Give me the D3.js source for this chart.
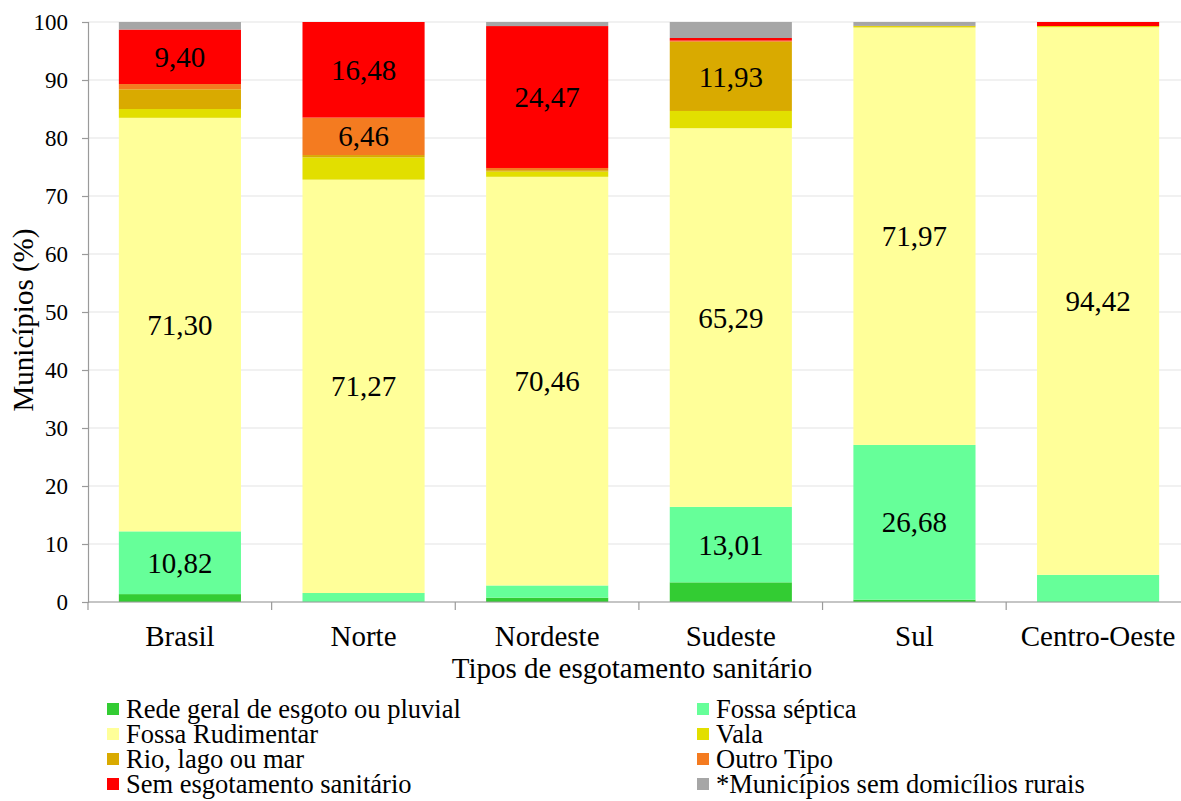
<!DOCTYPE html>
<html>
<head>
<meta charset="utf-8">
<script src="https://cdn.jsdelivr.net/npm/d3@7"></script>
</head>
<body style="margin:0">
<svg id="fig" width="1181" height="801"></svg>
<script>
// Regions (x axis categories)
const regions = ["Brasil", "Norte", "Nordeste", "Sudeste", "Sul", "Centro-Oeste"];

// Sewage disposal types, bottom to top of each stack
const seriesNames = [
  "Rede geral de esgoto ou pluvial",
  "Fossa séptica",
  "Fossa Rudimentar",
  "Vala",
  "Rio, lago ou mar",
  "Outro Tipo",
  "Sem esgotamento sanitário",
  "*Municípios sem domicílios rurais"
];
const seriesColors = ["#33cc33", "#66ff99", "#ffff99", "#e2df00", "#d9aa00", "#f47b20", "#ff0000", "#a6a6a6"];

// Share of municipalities (%) per type, one array per type, in region order
const redeGeral      = [1.36, 0.00, 0.75, 3.39, 0.40, 0.00];
const fossaSeptica   = [10.82, 1.55, 2.10, 13.01, 26.68, 4.68];
const fossaRudiment  = [71.30, 71.27, 70.46, 65.29, 71.97, 94.42];
const vala           = [1.52, 3.84, 0.90, 2.97, 0.25, 0.20];
const rioLagoMar     = [3.40, 0.40, 0.25, 11.93, 0.00, 0.00];
const outroTipo      = [0.90, 6.46, 0.37, 0.20, 0.00, 0.00];
const semEsgotamento = [9.40, 16.48, 24.47, 0.45, 0.03, 0.70];
const semRurais      = [1.30, 0.00, 0.70, 2.76, 0.67, 0.00];

// Labelled segments: [series index, region index]
const labelled = [
  [1, 0], [2, 0], [6, 0],
  [2, 1], [5, 1], [6, 1],
  [2, 2], [6, 2],
  [1, 3], [2, 3], [4, 3],
  [1, 4], [2, 4],
  [2, 5]
];

const yTicks = [0, 10, 20, 30, 40, 50, 60, 70, 80, 90, 100];

const seriesValues = [redeGeral, fossaSeptica, fossaRudiment, vala, rioLagoMar, outroTipo, semEsgotamento, semRurais];

// Table for d3.stack
const table = regions.map((r, i) => {
  const row = { region: r };
  seriesNames.forEach((s, k) => { row[s] = seriesValues[k][i]; });
  return row;
});

const FONT = "\"Liberation Serif\"";
const svg = d3.select("#fig").style("font-family", FONT);
const plotLeft = 88, plotRight = 1190, plotTop = 22, plotBottom = 602;

const x = d3.scaleBand().domain(regions).range([plotLeft, plotRight]).paddingInner(0.335).paddingOuter(0.168);
const y = d3.scaleLinear().domain([0, 100]).range([plotBottom, plotTop]);

// Gridlines
svg.append("g").selectAll("line").data(yTicks).join("line")
  .attr("x1", plotLeft).attr("x2", plotRight)
  .attr("y1", d => y(d)).attr("y2", d => y(d))
  .attr("stroke", "#e3e3e3").attr("stroke-width", 1.2);

// Stacked bars
const stack = d3.stack().keys(seriesNames);
const layers = stack(table);

svg.append("g").selectAll("g").data(layers).join("g")
  .attr("fill", (d, k) => seriesColors[k])
  .selectAll("rect").data(d => d).join("rect")
  .attr("x", d => x(d.data.region))
  .attr("width", x.bandwidth())
  .attr("y", d => y(d[1]))
  .attr("height", d => Math.max(0, y(d[0]) - y(d[1])));

// Value labels centered in their segments
const fmt = v => v.toFixed(2).replace(".", ",");
svg.append("g").selectAll("text").data(labelled).join("text")
  .attr("x", d => x(regions[d[1]]) + x.bandwidth() / 2)
  .attr("y", d => {
    const seg = layers[d[0]][d[1]];
    return y((seg[0] + seg[1]) / 2);
  })
  .attr("dy", "0.35em")
  .attr("text-anchor", "middle")
  .style("font-family", FONT)
  .style("font-size", "29px")
  .attr("fill", "#000")
  .text(d => fmt(seriesValues[d[0]][d[1]]));

// Y axis
const yAxis = svg.append("g").attr("transform", `translate(${plotLeft},0)`)
  .call(d3.axisLeft(y).tickValues(yTicks).tickSize(6).tickPadding(14));
yAxis.attr("font-family", null).style("font-family", FONT);
yAxis.select(".domain").attr("stroke", "#9a9a9a").attr("stroke-width", 1.2);
yAxis.selectAll(".tick line").attr("stroke", "#9a9a9a").attr("stroke-width", 1.2);
yAxis.selectAll(".tick text")
  .style("font-family", FONT)
  .style("font-size", "23px").attr("fill", "#000");

// X axis line and boundary ticks
svg.append("line")
  .attr("x1", plotLeft).attr("x2", plotRight)
  .attr("y1", plotBottom).attr("y2", plotBottom)
  .attr("stroke", "#9a9a9a").attr("stroke-width", 1.2);
const boundaries = regions.map((r, i) => plotLeft + i * x.step()).concat([plotRight]);
svg.append("g").selectAll("line").data(boundaries).join("line")
  .attr("x1", d => d).attr("x2", d => d)
  .attr("y1", plotBottom).attr("y2", plotBottom + 8)
  .attr("stroke", "#9a9a9a").attr("stroke-width", 1.2);

// Category labels
svg.append("g").selectAll("text").data(regions).join("text")
  .attr("x", d => x(d) + x.bandwidth() / 2)
  .attr("y", 646)
  .attr("text-anchor", "middle")
  .style("font-family", FONT)
  .style("font-size", "29px")
  .text(d => d);

// Axis titles
svg.append("text")
  .attr("x", 632).attr("y", 678)
  .attr("text-anchor", "middle")
  .style("font-family", FONT)
  .style("font-size", "29px")
  .text("Tipos de esgotamento sanitário");

svg.append("text")
  .attr("transform", `translate(33,${(plotTop + plotBottom) / 2 + 8}) rotate(-90)`)
  .attr("text-anchor", "middle")
  .style("font-family", FONT)
  .style("font-size", "29px")
  .text("Municípios (%)");

// Legend, two columns
const legend = svg.append("g").selectAll("g").data(seriesNames).join("g")
  .attr("transform", (d, k) => {
    const col = k % 2, row = Math.floor(k / 2);
    return `translate(${col === 0 ? 107 : 697},${709 + row * 25})`;
  });
legend.append("rect")
  .attr("x", 0).attr("y", -6).attr("width", 12).attr("height", 12)
  .attr("fill", (d, k) => seriesColors[k]);
legend.append("text")
  .attr("x", 19).attr("y", 0).attr("dy", "0.33em")
  .style("font-family", FONT)
  .style("font-size", "26.5px")
  .text(d => d);
</script>
</body>
</html>
